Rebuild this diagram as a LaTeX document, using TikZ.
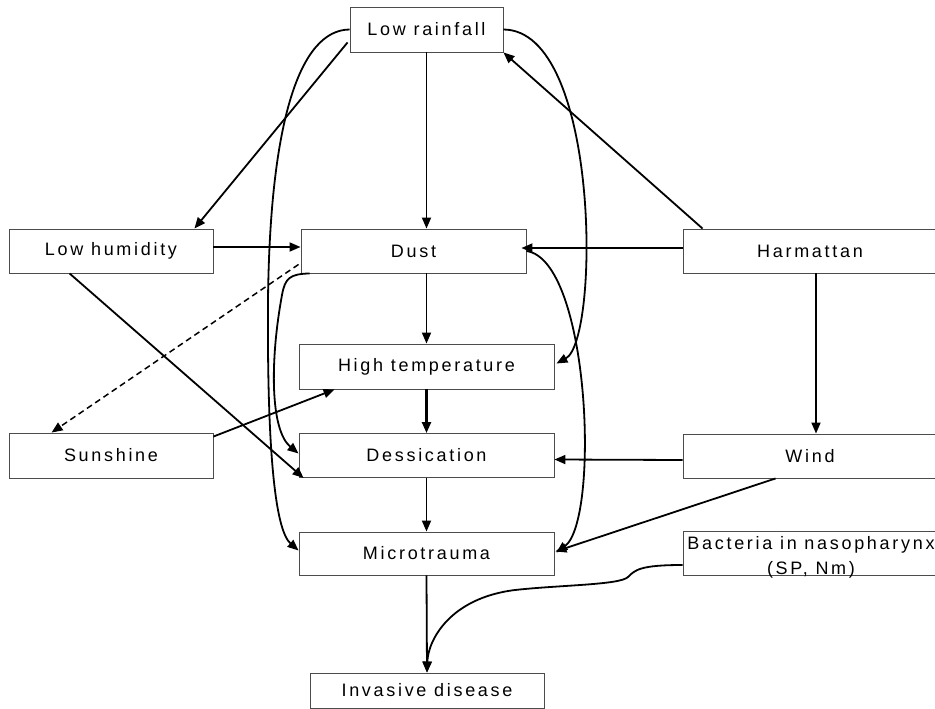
\documentclass[tikz,border=0pt]{standalone}
\usepackage{fontspec}
\setmainfont{Liberation Sans}[LetterSpace=15]
\usetikzlibrary{arrows.meta,calc}
\begin{document}
\begin{tikzpicture}[x=1pt,y=-1pt,
  box/.style={draw=black!70,line width=0.9pt,rectangle,inner sep=0pt,font=\fontsize{18}{22}\selectfont},
  conn/.style={line width=1.8pt,-{Triangle[length=11pt,width=9pt]}},
]
\useasboundingbox (0,0) rectangle (935,709);
\clip (0,0) rectangle (935,709);

% boxes
\node[box,minimum width=153pt,minimum height=45pt] (rain) at (426.5,29.5) {Low rainfall};
\node[box,minimum width=204pt,minimum height=44pt] (hum) at (111,251) {Low humidity};
\node[box,minimum width=225pt,minimum height=44pt] (dust) at (413.5,251) {Dust};
\node[box,minimum width=254pt,minimum height=44pt] (harm) at (810,251) {Harmattan};
\node[box,minimum width=255pt,minimum height=45pt] (temp) at (426.5,366.5) {High temperature};
\node[box,minimum width=204pt,minimum height=45pt] (sun) at (111,455.5) {Sunshine};
\node[box,minimum width=255pt,minimum height=44pt] (dess) at (426.5,455.5) {Dessication};
\node[box,minimum width=254pt,minimum height=44pt] (wind) at (810,456) {Wind};
\node[box,minimum width=255pt,minimum height=43pt] (micro) at (426.5,553.5) {Microtrauma};
\node[box,minimum width=254pt,minimum height=44pt] (bac) at (810,553) {};
\node[font=\fontsize{18}{25}\selectfont,align=center,inner sep=0pt] (bactext) at (811,557) {Bacteria in nasopharynx\\(SP, Nm)};
\node[box,minimum width=234pt,minimum height=35pt] (inv) at (427,690.5) {Invasive disease};

% straight vertical arrows
\draw[conn] (rain.south) -- (rain.south |- dust.north);
\draw[conn] (temp.north |- dust.south) -- (temp.north);
\draw[conn,line width=2.3pt] (temp.south) -- (dess.north);
\draw[conn] (dess.south) -- (micro.north);
\draw[conn] (micro.south) -- (inv.north);
\draw[conn] ($(harm.south)+(6,0)$) -- ($(wind.north)+(6,0)$);

% horizontal arrows
\draw[conn] ($(hum.east)+(0,-4)$) -- ($(dust.west)+(0,-4)$);
\draw[conn] ($(harm.west)+(0,-3)$) -- ($(dust.east)+(-5,-3)$);
\draw[conn] ($(wind.west)+(0,4)$) -- ($(dess.east)+(0,4)$);

% diagonal arrows
\draw[conn] ($(rain.south west)+(-2,-10)$) -- ($(hum.north east)+(-19,0)$);
\draw[conn] ($(harm.north west)+(20,0)$) -- (rain.south east);
\draw[conn] ($(hum.south west)+(61,0)$) -- ($(dess.south west)+(5,0)$);
\draw[conn] ($(sun.north east)+(0,4)$) -- ($(temp.south west)+(36,0)$);
\draw[conn] ($(wind.south west)+(93,0)$) -- ($(micro.east)+(1,-2)$);
\draw[conn,dash pattern=on 6pt off 4pt,line width=1.5pt] ($(dust.south west)+(-2,-9)$) -- ($(sun.north west)+(43,0)$);

% curved arrows
\draw[conn] (rain.west) .. controls (300,30) and (270,120) .. (268,300)
  .. controls (267,450) and (275,530) .. ($(micro.west)+(0,-3)$);
\draw[conn] (rain.east) .. controls (600,30) and (600,340) .. ($(temp.east)+(2,-3)$);
\draw[conn] ($(dust.south west)+(9,0)$) .. controls (290,274) and (285,278) .. (282,295)
  .. controls (270,360) and (270,430) .. ($(dess.west)+(0,-2)$);
\draw[conn] (dust.east) .. controls (590,260) and (600,520) .. ($(micro.east)+(2,-1)$);
\draw[conn] ($(bac.west)+(0,12)$) .. controls (640,565) and (635,570) .. (628,577)
  .. controls (620,585) and (560,585) .. (515,590)
  .. controls (450,598) and (428,640) .. (inv.north);
\end{tikzpicture}
\end{document}
